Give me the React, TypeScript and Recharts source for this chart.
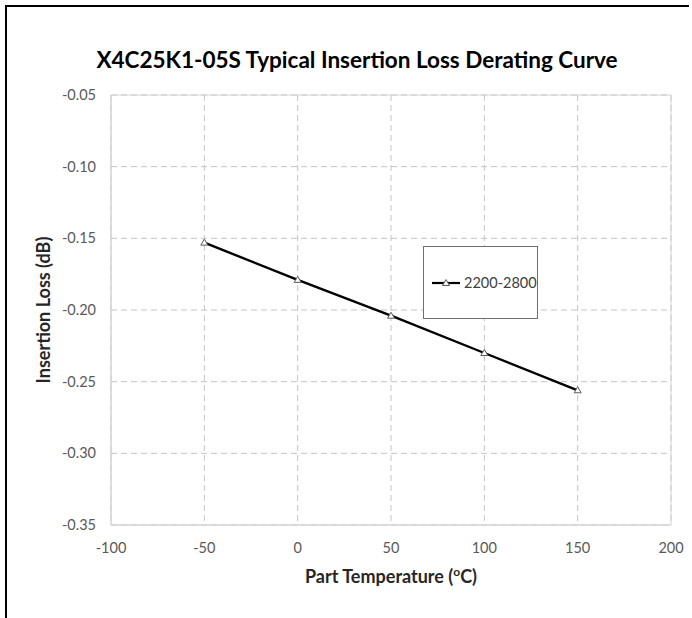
import React from "react";
import { CartesianGrid, Legend, Line, LineChart, ReferenceArea, XAxis, YAxis } from "recharts";

const temperatures = [-50, 0, 50, 100, 150];
const loss2200to2800 = [-0.153, -0.179, -0.204, -0.23, -0.256];
const xTicks = [-100, -50, 0, 50, 100, 150, 200];
const yTicks = [-0.35, -0.3, -0.25, -0.2, -0.15, -0.1, -0.05];
const seriesName = "2200-2800";

const data = temperatures.map((t, i) => ({ t, loss: loss2200to2800[i] }));

const FONT = "Lato, 'Open Sans', sans-serif";

function Triangle(props: any) {
  const { cx, cy, index } = props;
  if (cx == null || cy == null) return null;
  return (
    <path
      key={index}
      d={`M${cx},${cy - 3.5} L${cx + 3.5},${cy + 2.5} L${cx - 3.5},${cy + 2.5} Z`}
      fill="#fff"
      stroke="#595959"
      strokeWidth={1}
    />
  );
}

function LegendBox() {
  return (
    <div
      style={{
        width: 115,
        height: 73,
        boxSizing: "border-box",
        border: "1px solid #6f6f6f",
        background: "#fff",
        display: "flex",
        alignItems: "center",
        fontFamily: FONT,
        fontSize: 14.5,
        color: "#404040",
        whiteSpace: "nowrap",
      }}
    >
      <svg width={30} height={12} style={{ marginLeft: 7 }}>
        <line x1={1} y1={6} x2={29} y2={6} stroke="#000" strokeWidth={2.2} />
        <path d="M15,2.5 L18.5,8.5 L11.5,8.5 Z" fill="#fff" stroke="#595959" strokeWidth={1} />
      </svg>
      <span style={{ marginLeft: 3 }}>{seriesName}</span>
    </div>
  );
}

function XLabel() {
  return (
    <text x={391} y={583} textAnchor="middle" fontFamily={FONT} fontWeight="bold" fontSize={18} fill="#262626">
      Part Temperature (
      <tspan fontSize={12} dy={-7}>o</tspan>
      <tspan dy={7}>C)</tspan>
    </text>
  );
}

function YLabel() {
  return (
    <text
      x={0}
      y={0}
      transform="translate(50,310) rotate(-90)"
      textAnchor="middle"
      fontFamily={FONT}
      fontWeight="bold"
      fontSize={18}
      fill="#262626"
    >
      Insertion Loss (dB)
    </text>
  );
}

export default function App() {
  return (
    <div style={{ position: "absolute", left: 0, top: 0, width: 692, height: 618, background: "#fff" }}>
      <div style={{ position: "absolute", left: 5, top: 5, width: 682, height: 613, borderTop: "2px solid #000", borderLeft: "2px solid #000" }} />
      <div
        style={{
          position: "absolute",
          left: 57,
          top: 46,
          width: 600,
          textAlign: "center",
          fontFamily: FONT,
          fontWeight: "bold",
          fontSize: 22.5,
          lineHeight: "27px",
          color: "#000",
          whiteSpace: "nowrap",
        }}
      >
        X4C25K1-05S Typical Insertion Loss Derating Curve
      </div>
      <div style={{ position: "absolute", left: 0, top: 0 }}>
        <LineChart width={692} height={618} data={data} margin={{ top: 95, right: 21, bottom: 63, left: 51 }}>
          <CartesianGrid stroke="#c4c4c4" strokeDasharray="6 4" />
          <ReferenceArea x1={-100} x2={200} y1={-0.35} y2={-0.05} fill="none" fillOpacity={0} stroke="#d4d4d4" strokeWidth={1} ifOverflow="visible" />
          <XAxis
            type="number"
            dataKey="t"
            domain={[-100, 200]}
            ticks={xTicks}
            height={30}
            axisLine={{ stroke: "#d4d4d4" }}
            tickLine={false}
            tickMargin={12}
            tick={{ fontFamily: FONT, fontSize: 14.5, fill: "#595959" }}
            label={<XLabel />}
          />
          <YAxis
            type="number"
            domain={[-0.35, -0.05]}
            ticks={yTicks}
            width={60}
            axisLine={{ stroke: "#d4d4d4" }}
            tickLine={false}
            tickMargin={9}
            tickFormatter={(v: number) => v.toFixed(2)}
            tick={{ fontFamily: FONT, fontSize: 14.5, fill: "#595959" }}
            label={<YLabel />}
          />
          <Legend
            layout="horizontal"
            verticalAlign="middle"
            align="center"
            content={<LegendBox />}
            wrapperStyle={{ position: "absolute", left: 423, top: 246, width: 115, height: 73 }}
          />
          <Line
            type="linear"
            dataKey="loss"
            name={seriesName}
            stroke="#000"
            strokeWidth={2.4}
            dot={Triangle}
            activeDot={false}
            isAnimationActive={false}
          />
        </LineChart>
      </div>
    </div>
  );
}
